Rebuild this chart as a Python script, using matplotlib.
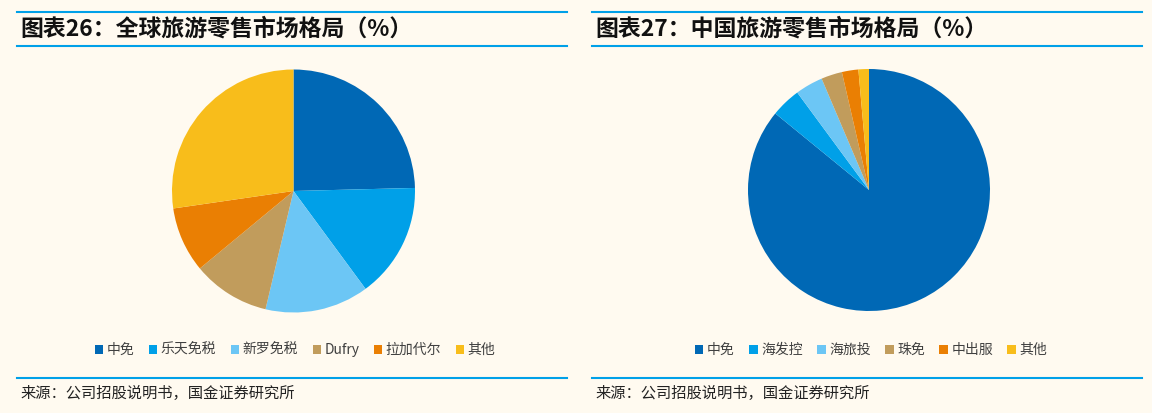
import matplotlib
matplotlib.use("Agg")
import matplotlib.pyplot as plt
from matplotlib.lines import Line2D

plt.rcParams['font.family'] = ['Noto Sans CJK SC', 'DejaVu Sans']

# ---- data ----
title_left = "图表26：全球旅游零售市场格局（%）"
title_right = "图表27：中国旅游零售市场格局（%）"
source_text = "来源：公司招股说明书，国金证券研究所"

global_labels = ["中免", "乐天免税", "新罗免税", "Dufry", "拉加代尔", "其他"]
global_values = [24.6, 15.3, 13.8, 10.3, 8.7, 27.3]

china_labels = ["中免", "海发控", "海旅投", "珠免", "中出服", "其他"]
china_values = [85.9, 4.0, 3.7, 2.8, 2.2, 1.4]

colors = ["#0068b5", "#00a0e8", "#6cc6f5", "#c19c5c", "#ea7f03", "#f8bd1b"]

W, H = 1152, 413
BG = "#fffaf0"
LINE = "#00a0e8"

fig = plt.figure(figsize=(W / 100, H / 100), dpi=100, facecolor=BG)


def px_axes(cx, cy, r):
    return fig.add_axes([(cx - r) / W, (H - cy - r) / H, 2 * r / W, 2 * r / H])


def hline(x0, x1, y, lw=1.5):
    fig.add_artist(Line2D([x0 / W, x1 / W], [1 - y / H, 1 - y / H],
                          color=LINE, lw=lw, transform=fig.transFigure))


def panel(x0, x1, cx, cy, r, title, labels, values, legend_cx):
    hline(x0, x1, 12)
    hline(x0, x1, 46)
    hline(x0, x1, 378)
    fig.text((x0 + 3) / W, 1 - 29 / H, title, fontsize=16.5, fontweight='bold',
             color="#111111", va='center', ha='left')
    fig.text((x0 + 3) / W, 1 - 393 / H, source_text, fontsize=11,
             color="#222222", va='center', ha='left')
    ax = px_axes(cx, cy, r)
    ax.set_facecolor(BG)
    wedges, _ = ax.pie(values, colors=colors, startangle=90, counterclock=False,
                       radius=1.0, wedgeprops=dict(linewidth=0))
    ax.set_xlim(-1, 1)
    ax.set_ylim(-1, 1)
    ax.set_axis_off()
    fig.legend(wedges, labels, loc='center', ncol=6,
               bbox_to_anchor=(legend_cx / W, 1 - 350 / H),
               frameon=False, fontsize=10, handlelength=0.6, handleheight=0.6,
               handletextpad=0.25, columnspacing=1.05, labelcolor="#404040")


panel(17, 567, 293.5, 191, 121.5, title_left, global_labels, global_values, 295)
panel(592, 1142, 869, 190, 121, title_right, china_labels, china_values, 871)

fig.savefig("out.png", dpi=100, facecolor=BG)
